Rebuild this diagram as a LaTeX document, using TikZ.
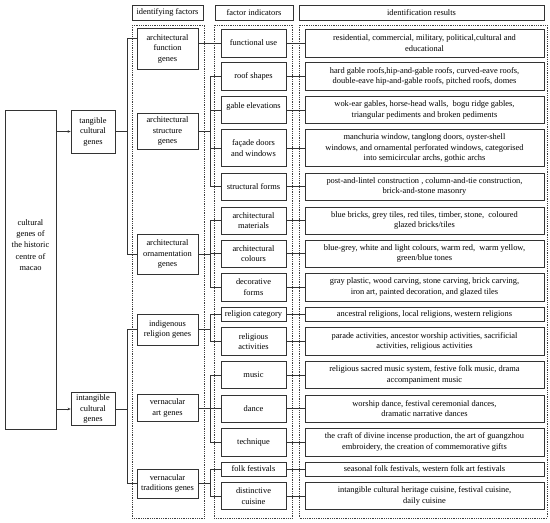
\documentclass[tikz,border=0pt]{standalone}
\usepackage{fontspec}
\setmainfont{Liberation Serif}
\usetikzlibrary{arrows.meta}
\newcommand\cbox[7][]{\node[box,minimum width={(#4-#3)*1pt},minimum height={(#6)*1pt},#1] (#2) at ({(#3+#4)/2},#5) {#7};}
\begin{document}
\begin{tikzpicture}[x=1pt,y=-1pt,
  every node/.style={font=\fontsize{8.4}{10.5}\selectfont,align=center,inner sep=0pt},
  box/.style={draw=black!80,line width=0.7pt},
  dotcol/.style={draw=black!75,line width=0.7pt,dash pattern=on 0.7pt off 1.1pt},
  conn/.style={draw=black!80,line width=0.6pt},
  arr/.style={conn,-{Stealth[length=3pt,width=2.6pt]}}]
\useasboundingbox (0,0) rectangle (550,523);
% dotted columns
\draw[dotcol] (132,25) rectangle (204.5,518);
\draw[dotcol] (214,25) rectangle (292.5,518);
\draw[dotcol] (299.5,25) rectangle (547,518);
% headers
\cbox{h1}{132}{203}{12.5}{15}{identifying factors}
\cbox{h2}{215}{293}{12.5}{15}{factor indicators}
\cbox{h3}{299}{544}{12.5}{15}{identification results}
% root and level 1
\node[box,minimum width=51pt,minimum height=319pt] (root) at (30.5,269.5) {};
\node[font=\fontsize{8.4}{11.2}\selectfont] (roottext) at (30.5,245) {cultural\\genes of\\the historic\\centre of\\macao};
\cbox{tangible}{71}{115}{131.5}{43}{tangible\\cultural\\genes}
\cbox{intangible}{71}{115}{409}{33}{intangible\\cultural\\genes}
% identifying factors
\cbox{g1}{137}{198}{48.5}{41}{architectural\\function\\genes}
\cbox{g2}{137}{198}{131}{36}{architectural\\structure\\genes}
\cbox{g3}{137}{198}{254}{40}{architectural\\ornamentation\\genes}
\cbox{g4}{137}{198}{329.5}{31}{indigenous\\religion genes}
\cbox{g5}{137}{198}{408}{27}{vernacular\\art genes}
\cbox{g6}{137}{198}{483.5}{29}{vernacular\\traditions genes}
% factor indicators
\cbox{f1}{221}{286}{43}{28}{functional use}
\cbox{f2}{221}{286}{76.5}{28}{roof shapes}
\cbox[text depth=9pt]{f3}{221}{286}{110}{27}{gable elevations}
\cbox{f4}{221}{286}{148}{37}{fa\c{c}ade doors\\and windows}
\cbox{f5}{221}{286}{186.5}{27}{structural forms}
\cbox{f6}{221}{286}{220.5}{27}{architectural\\materials}
\cbox{f7}{221}{286}{253.5}{27}{architectural\\colours}
\cbox{f8}{221}{286}{287}{28}{decorative\\forms}
\cbox{f9}{221}{286}{314}{14}{religion category}
\cbox{f10}{221}{286}{341.5}{28}{religious\\activities}
\cbox{f11}{221}{286}{375}{27}{music}
\cbox{f12}{221}{286}{408.5}{27}{dance}
\cbox{f13}{221}{286}{442}{28}{technique}
\cbox{f14}{221}{286}{469}{14}{folk festivals}
\cbox{f15}{221}{286}{496}{27}{distinctive\\cuisine}
% identification results
\cbox{r1}{305}{544}{43}{28}{residential, commercial, military, political,cultural and\\educational}
\cbox{r2}{305}{544}{76.5}{28}{hard gable roofs,hip-and-gable roofs, curved-eave roofs,\\double-eave hip-and-gable roofs, pitched roofs, domes}
\cbox{r3}{305}{544}{110}{27}{wok-ear gables, horse-head walls,\ \ bogu ridge gables,\\triangular pediments and broken pediments}
\cbox{r4}{305}{544}{148}{37}{manchuria window, tanglong doors, oyster-shell\\windows, and ornamental perforated windows, categorised\\into semicircular archs, gothic archs}
\cbox{r5}{305}{544}{186.5}{27}{post-and-lintel construction , column-and-tie construction,\\brick-and-stone masonry}
\cbox{r6}{305}{544}{220.5}{27}{blue bricks, grey tiles, red tiles, timber, stone,\ \ coloured\\glazed bricks/tiles}
\cbox{r7}{305}{544}{253.5}{27}{blue-grey, white and light colours, warm red,\ \ warm yellow,\\green/blue tones}
\cbox{r8}{305}{544}{287}{28}{gray plastic, wood carving, stone carving, brick carving,\\iron art, painted decoration, and glazed tiles}
\cbox{r9}{305}{544}{314}{14}{ancestral religions, local religions, western religions}
\cbox{r10}{305}{544}{341.5}{28}{parade activities, ancestor worship activities, sacrificial\\activities, religious activities}
\cbox{r11}{305}{544}{375}{27}{religious sacred music system, festive folk music, drama\\accompaniment music}
\cbox{r12}{305}{544}{408.5}{27}{worship dance, festival ceremonial dances,\\dramatic narrative dances}
\cbox{r13}{305}{544}{442}{28}{the craft of divine incense production, the art of guangzhou\\embroidery, the creation of commemorative gifts}
\cbox{r14}{305}{544}{469}{14}{seasonal folk festivals, western folk art festivals}
\cbox{r15}{305}{544}{496}{27}{intangible cultural heritage cuisine, festival cuisine,\\daily cuisine}
% trunk x positions
\coordinate (tx1) at (127,0);
\coordinate (tx2) at (210,0);
% root arrows
\draw[arr] (root.east |- tangible.west) -- (tangible.west);
\draw[arr] (root.east |- intangible.west) -- (intangible.west);
% level 1 to identifying factors
\draw[conn] (tangible.east) -- (tangible.east -| tx1);
\draw[conn] (g1.west |- 0,38) -| (tx1 |- g3.west) -- (g3.west);
\draw[conn] (intangible.east) -- (intangible.east -| tx1);
\draw[conn] (g4.west) -| (tx1 |- g6.west) -- (g6.west);
% identifying factors to indicators
\draw[conn] (g1.east |- f1.west) -- (f1.west);
\draw[conn] (g2.east) -- (g2.east -| tx2);
\draw[conn] (f2.west) -| (tx2 |- f5.west) -- (f5.west);
\draw[conn] (f3.west) -- (f3.west -| tx2);
\draw[conn] (f4.west) -- (f4.west -| tx2);
\draw[conn] (g3.east) -- (g3.east -| tx2);
\draw[conn] (f6.west) -| (tx2 |- f8.west) -- (f8.west);
\draw[conn] (f7.west) -- (f7.west -| tx2);
\draw[conn] (g4.east) -- (g4.east -| tx2);
\draw[conn] (f9.west) -| (tx2 |- f10.west) -- (f10.west);
\draw[conn] (g5.east) -- (g5.east -| tx2);
\draw[conn] (f11.west) -| (tx2 |- f13.west) -- (f13.west);
\draw[conn] (f12.west) -- (f12.west -| tx2);
\draw[conn] (g6.east) -- (g6.east -| tx2);
\draw[conn] (f14.west) -| (tx2 |- f15.west) -- (f15.west);
% indicators to results
\foreach \i in {1,...,15} \draw[conn] (f\i.east) -- (r\i.west);
\end{tikzpicture}
\end{document}
